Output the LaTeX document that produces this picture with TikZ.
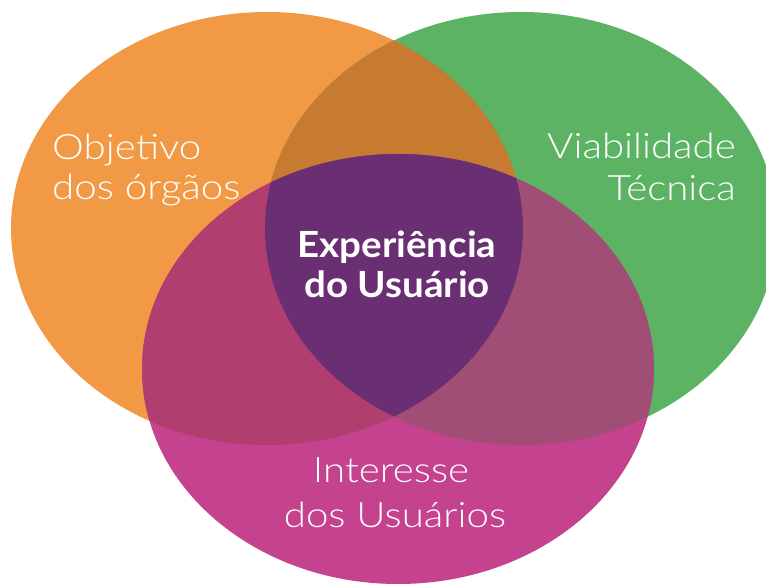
\documentclass[tikz,border=0pt]{standalone}
\usepackage{fontspec}
\setmainfont{Lato}
\newfontfamily\lightfont{Lato Light}[FakeStretch=1.15]
\newfontfamily\centerfont{Lato}[FakeStretch=1.07]
\definecolor{cOrange}{HTML}{F29946}
\definecolor{cGreen}{HTML}{5DB364}
\definecolor{cMagenta}{HTML}{C4428E}
\definecolor{cOG}{HTML}{C77B30}
\definecolor{cOM}{HTML}{B03E6F}
\definecolor{cGM}{HTML}{A04E76}
\definecolor{cCenter}{HTML}{6A2F73}
\tikzset{
  outer/.style={text=white, inner sep=0pt, font=\lightfont\fontsize{35}{40}\selectfont},
  inner/.style={text=white, inner sep=0pt, font=\centerfont\bfseries\fontsize{36}{40}\selectfont},
}
\begin{document}
\begin{tikzpicture}[x=1pt,y=-1pt]
\useasboundingbox (0,0) rectangle (766,585);
\clip (0,0) rectangle (766,585);
\def\orangeE{(267,228.5) ellipse [x radius=256, y radius=216.5]}
\def\greenE{(521,228.5) ellipse [x radius=256, y radius=216.5]}
\def\magentaE{(398,369) ellipse [x radius=256, y radius=215]}
\fill[cOrange] \orangeE;
\fill[cGreen] \greenE;
\fill[cMagenta] \magentaE;
\begin{scope}
  \clip \orangeE;
  \fill[cOG] \greenE;
  \fill[cOM] \magentaE;
\end{scope}
\begin{scope}
  \clip \greenE;
  \fill[cGM] \magentaE;
\end{scope}
\begin{scope}
  \clip \orangeE;
  \clip \greenE;
  \fill[cCenter] \magentaE;
\end{scope}
\node[outer, anchor=base west] (obj1) at (52,160) {Objetivo};
\node[outer, anchor=base west] (obj2) at (52,200) {dos órgãos};
\node[outer, anchor=base east] (via1) at (736,159) {Viabilidade};
\node[outer, anchor=base east] (via2) at (736,201) {Técnica};
\node[inner, anchor=base] (exp1) at (397,258) {Experiência};
\node[inner, anchor=base] (exp2) at (397,298) {do Usuário};
\node[outer, anchor=base] (int1) at (391,482) {Interesse};
\node[outer, anchor=base] (int2) at (395,527) {dos Usuários};
\end{tikzpicture}
\end{document}
